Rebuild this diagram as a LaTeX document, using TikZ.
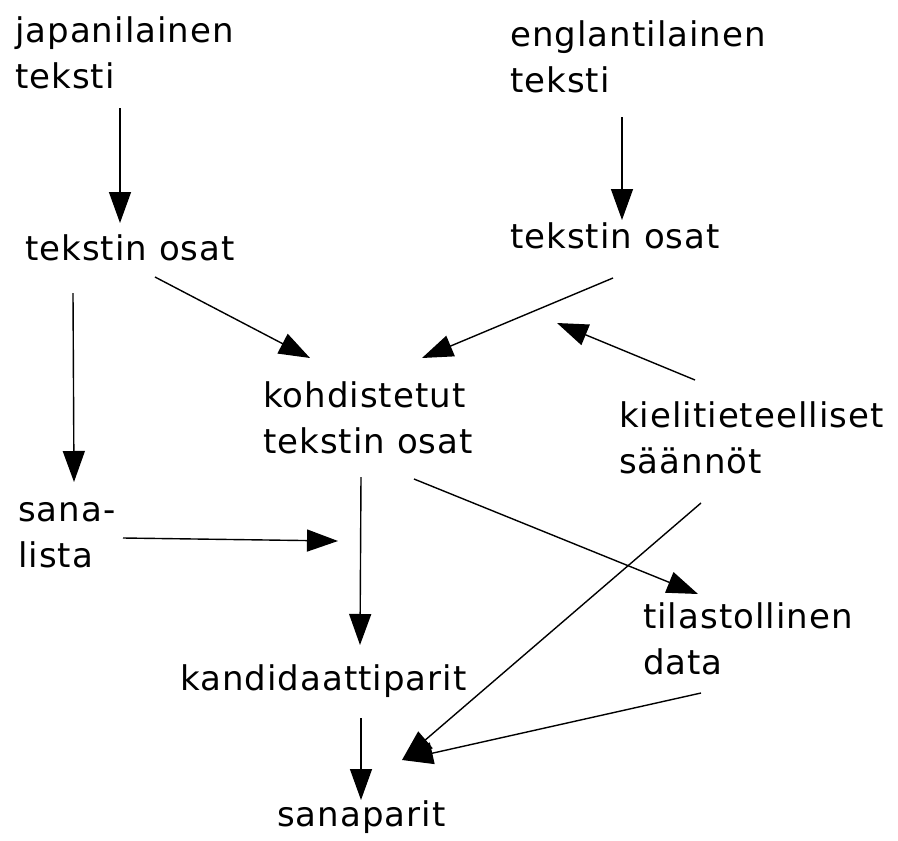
\documentclass[tikz,border=0pt]{standalone}
\usepackage{fontspec}
\newfontfamily\diafont[LetterSpace=3]{DejaVu Sans}
\usetikzlibrary{arrows.meta}
\begin{document}
\begin{tikzpicture}[x=1pt,y=-1pt,
  lbl/.style={anchor=base west,inner sep=0pt,align=left,
    font=\diafont\fontsize{34}{46}\selectfont},
  conn/.style={line width=1.4pt,-{Triangle[length=31pt,width=22pt]}}]
\useasboundingbox[fill=white] (0,0) rectangle (898,841);
% text nodes (anchored at the baseline of the last line)
\node[lbl] (jt) at (15,88) {japanilainen\\teksti};
\node[lbl] (jo) at (25,260) {tekstin osat};
\node[lbl] (et) at (510,92) {englantilainen\\teksti};
\node[lbl] (eo) at (510,248) {tekstin osat};
\node[lbl] (ko) at (263,453) {kohdistetut\\tekstin osat};
\node[lbl] (ks) at (619,473) {kielitieteelliset\\säännöt};
\node[lbl] (sl) at (18,567) {sana-\\lista};
\node[lbl] (td) at (643,674) {tilastollinen\\data};
\node[lbl] (kp) at (180,690) {kandidaattiparit};
\node[lbl] (sp) at (277,826) {sanaparit};
% connector end points
\coordinate (a1s) at (120,108);  \coordinate (a1e) at (120,223);
\coordinate (a2s) at (622,117);  \coordinate (a2e) at (622,220);
\coordinate (a3s) at (155,277);  \coordinate (a3e) at (310,358);
\coordinate (a4s) at (613,278);  \coordinate (a4e) at (422,358);
\coordinate (a5s) at (695,380);  \coordinate (a5e) at (557,323);
\coordinate (a6s) at (73,293);   \coordinate (a6e) at (74,482);
\coordinate (a7s) at (123,538);  \coordinate (a7e) at (338,541);
\coordinate (a8s) at (361,477);  \coordinate (a8e) at (360,645);
\coordinate (a9s) at (414,479);  \coordinate (a9e) at (698,594);
\coordinate (a10s) at (701,503); \coordinate (a10e) at (402,760);
\coordinate (a11s) at (701,693); \coordinate (a11e) at (402,760);
\coordinate (a12s) at (361,718); \coordinate (a12e) at (361,800);
% connectors
\draw[conn] (a1s) -- (a1e);
\draw[conn] (a2s) -- (a2e);
\draw[conn] (a3s) -- (a3e);
\draw[conn] (a4s) -- (a4e);
\draw[conn] (a5s) -- (a5e);
\draw[conn] (a6s) -- (a6e);
\draw[conn] (a7s) -- (a7e);
\draw[conn] (a8s) -- (a8e);
\draw[conn] (a9s) -- (a9e);
\draw[conn] (a10s) -- (a10e);
\draw[conn] (a11s) -- (a11e);
\draw[conn] (a12s) -- (a12e);
\end{tikzpicture}
\end{document}
